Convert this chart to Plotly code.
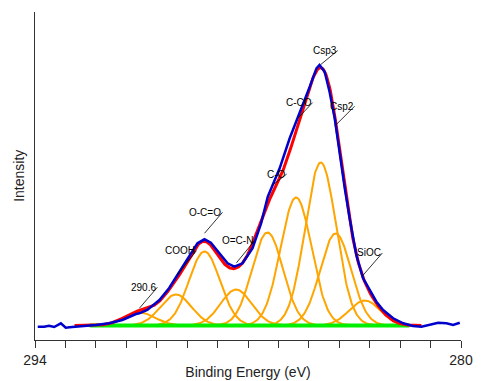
import numpy as np
import plotly.graph_objects as go

raw_ev = [293.91, 293.70, 293.54, 293.37, 293.15, 292.99, 292.78, 292.45, 292.00, 291.56,
          291.13, 290.68, 290.57, 290.31, 290.24, 289.91, 289.59, 289.26, 288.93, 288.66,
          288.43, 288.22, 287.94, 287.67, 287.45, 287.18, 286.85, 286.57, 286.35, 285.96,
          285.63, 285.30, 284.97, 284.75, 284.65, 284.48, 284.32, 284.15, 283.99, 283.82,
          283.66, 283.44, 283.22, 283.00, 282.78, 282.56, 282.23, 281.90, 281.58, 281.30,
          281.02, 280.75, 280.48, 280.26, 280.04]
raw_int = [13.3, 13.3, 14.3, 13.0, 16.7, 12.3, 13.0, 13.7, 15.0, 16.7,
           20.0, 26.0, 26.7, 30.0, 31.7, 40.0, 52.0, 68.3, 84.0, 96.7,
           100.7, 97.3, 86.7, 76.7, 73.3, 76.7, 91.7, 116.7, 143.3, 171.7,
           201.7, 226.7, 253.3, 271.7, 275.0, 268.3, 248.3, 221.7, 185.0, 151.7,
           121.7, 85.0, 62.0, 50.0, 38.3, 30.0, 21.7, 16.7, 14.0, 13.3,
           15.0, 17.3, 16.7, 15.0, 17.3]

# ---- fitted components (orange): label, centre (eV), height, FWHM (eV) ----
comp_labels = ["290.6", "COOH", "O-C=O", "O=C-N", "C-O", "C-CO", "Csp3", "Csp2", "SiOC"]
comp_center = [290.57, 289.37, 288.43, 287.39, 286.36, 285.42, 284.61, 284.12, 283.16]
comp_height = [13, 31, 74, 36, 93, 128, 163, 92, 25]
comp_fwhm = [1.2, 1.2, 1.2, 1.2, 1.2, 1.2, 1.2, 1.2, 1.2]

# where each label's leader line touches the spectrum (eV)
label_ev = [290.57, 289.32, 288.43, 287.38, 286.19, 285.37, 284.61, 284.12, 283.24]

baseline_level = 14.5
baseline_range = [292.2, 281.7]
envelope_range = [292.7, 281.3]

x_ticks = list(range(294, 279, -1))
x_ticktext = ["294"] + [""] * 13 + ["280"]

X_MIN, X_MAX = 294, 280
Y_MIN, Y_MAX = 0, 328
PLOT_W, PLOT_H = 426, 328   # plot-area size in px
EV_PER_PX = (X_MIN - X_MAX) / PLOT_W
INT_PER_PX = (Y_MAX - Y_MIN) / PLOT_H

# leader line geometry (px): tail offset (dx right, dy up) and gap above the curve
leader_style = {"290.6": (18, 21, 5), "COOH": (19, 24, 0), "O-C=O": (18, 21, 6),
                "O=C-N": (18, 22, 3), "C-O": (14, 11, 0), "C-CO": (15, 16, 0),
                "Csp3": (17, 14, 2), "Csp2": (19, 19, 0), "SiOC": (20, 23, 0)}


def gauss(x, c, h, fwhm):
    s = fwhm / 2.3548
    return h * np.exp(-(x - c) ** 2 / (2 * s * s))


fig = go.Figure()

xc = np.linspace(baseline_range[0], baseline_range[1], 400)
for c, h, w in zip(comp_center, comp_height, comp_fwhm):
    fig.add_trace(go.Scatter(x=xc, y=baseline_level + gauss(xc, c, h, w), mode="lines",
                             line=dict(color="#FFA500", width=2), showlegend=False,
                             hoverinfo="skip"))

fig.add_trace(go.Scatter(x=baseline_range, y=[baseline_level, baseline_level], mode="lines",
                         line=dict(color="#00EE00", width=4), showlegend=False))

xe = np.linspace(envelope_range[0], envelope_range[1], 500)
env = baseline_level + sum(gauss(xe, c, h, w) for c, h, w in zip(comp_center, comp_height, comp_fwhm))
fig.add_trace(go.Scatter(x=xe, y=env, mode="lines", line=dict(color="#FF0000", width=3),
                         showlegend=False))

fig.add_trace(go.Scatter(x=raw_ev, y=raw_int, mode="lines", line=dict(color="#0000CC", width=2.5),
                         showlegend=False))

rx = np.array(raw_ev[::-1])
ry = np.array(raw_int[::-1])
for lab, ev in zip(comp_labels, label_ev):
    dx, dy, gap = leader_style[lab]
    y_head = float(np.interp(ev, rx, ry)) + gap * INT_PER_PX
    x_tail = ev - dx * EV_PER_PX
    y_tail = y_head + dy * INT_PER_PX
    fig.add_trace(go.Scatter(x=[ev, x_tail], y=[y_head, y_tail], mode="lines",
                             line=dict(color="black", width=0.8), showlegend=False,
                             hoverinfo="skip"))
    fig.add_annotation(x=x_tail, y=y_tail, text=lab, showarrow=False, xanchor="right",
                       yanchor="middle", xshift=1,
                       font=dict(family="Liberation Sans, Arial", size=10, color="black"))

fig.add_annotation(x=-0.038, y=0.5, xref="paper", yref="paper", text="Intensity",
                   textangle=-90, showarrow=False, xanchor="center", yanchor="middle",
                   font=dict(family="Liberation Sans, Arial", size=14, color="#222222"))

fig.update_layout(
    width=481, height=381, margin=dict(l=35, r=20, t=12, b=41),
    paper_bgcolor="white", plot_bgcolor="white", showlegend=False,
    font=dict(family="Liberation Sans, Arial", color="#222222"),
    xaxis=dict(range=[X_MIN, X_MAX], tickvals=x_ticks, ticktext=x_ticktext, ticks="outside",
               ticklen=7, tickcolor="#333333", showgrid=False, zeroline=False,
               showline=True, linecolor="#333333", linewidth=1, automargin=False,
               tickfont=dict(size=14, color="#222222"),
               title=dict(text="Binding Energy (eV)", font=dict(size=14), standoff=0)),
    yaxis=dict(range=[Y_MIN, Y_MAX], showticklabels=False, ticks="", showgrid=False,
               zeroline=False, showline=True, linecolor="#333333", linewidth=1,
               automargin=False),
)

fig.write_html("out.html", config={"displayModeBar": False},
               post_script="document.body.style.margin='0';document.body.style.overflow='hidden';")
